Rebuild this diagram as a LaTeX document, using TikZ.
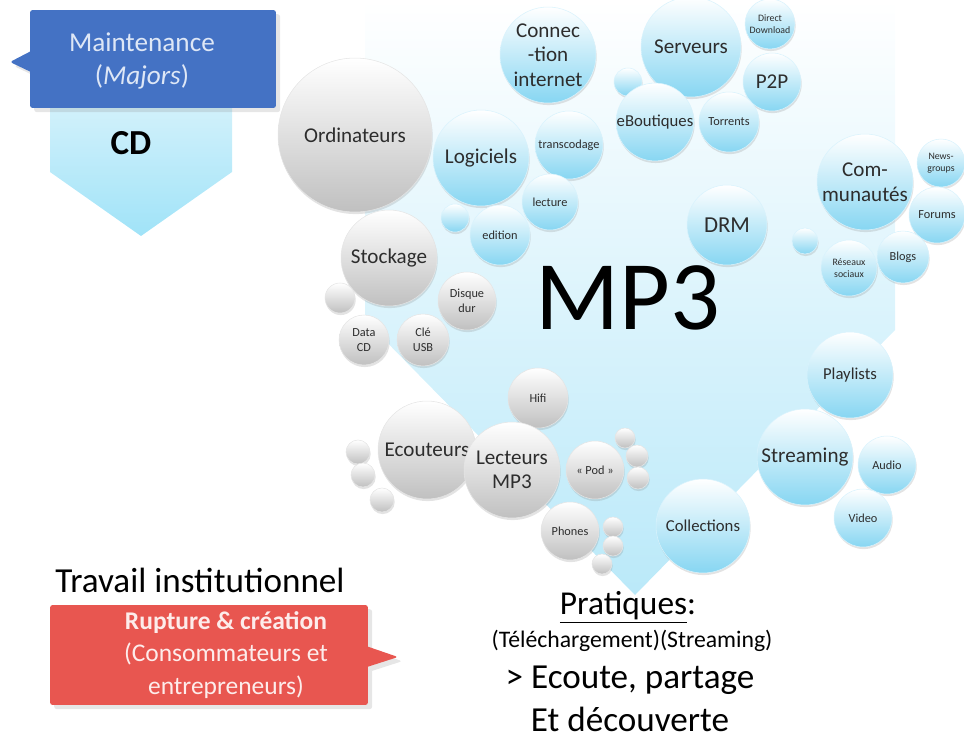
\documentclass[tikz,border=0pt]{standalone}
\usepackage{fontspec}
\setmainfont{Carlito}
\usetikzlibrary{shapes.callouts,shadows}
\definecolor{bgblue}{RGB}{186,233,249}
\definecolor{cdtop}{RGB}{214,242,251}
\definecolor{cdbottom}{RGB}{160,227,248}
\definecolor{bubbleblue}{RGB}{135,214,242}
\definecolor{bubblegray}{RGB}{192,192,192}
\definecolor{majorblue}{RGB}{68,114,196}
\definecolor{majortext}{RGB}{222,231,246}
\definecolor{rupturered}{RGB}{232,86,80}
\definecolor{rupturetext}{RGB}{253,236,235}
\definecolor{labelgray}{RGB}{45,45,45}

\begin{document}
\begin{tikzpicture}[x=0.02cm, y=-0.02cm,
  bubble/.style = {circle, minimum size=#1*0.04cm, inner sep=0pt,
    align=center, text=labelgray,
    drop shadow={opacity=0.22, shadow xshift=0.4pt, shadow yshift=-1.2pt}},
  gray bubble/.style = {bubble=#1, top color=white, bottom color=bubblegray,
    draw=black!10, line width=0.3pt},
  blue bubble/.style = {bubble=#1, top color=white, bottom color=bubbleblue,
    draw=cyan!15, line width=0.3pt},
  bigtxt/.style = {font=\fontsize{12}{14}\selectfont},
  midtxt/.style = {font=\fontsize{9.5}{11}\selectfont},
  smalltxt/.style = {font=\fontsize{7}{8.5}\selectfont},
  tinytxt/.style = {font=\fontsize{5.6}{6.8}\selectfont}]
  \useasboundingbox (0,0) rectangle (964,740);

  \shade[top color=white, middle color=white!45!bgblue, bottom color=bgblue]
    (365,0) -- (895,0) -- (895,330) -- (635,595) -- (365,320) -- cycle;
  \shade[top color=cdtop, bottom color=cdbottom]
    (50,95) -- (232,95) -- (232,172) -- (141,236) -- (50,172) -- cycle;

  \node[rectangle callout, fill=majorblue, rounded corners=1.5pt,
    minimum width=4.92cm, minimum height=1.96cm,
    callout absolute pointer={(10,62)}, callout pointer width=0.4cm,
    drop shadow={opacity=0.2}] (maint) at (153,59) {};
  \node[text=majortext, align=center, font=\fontsize{15.5}{19}\selectfont]
    (mainttxt) at (142,61) {Maintenance\\(\textit{Majors})};
  \node[font=\fontsize{20}{24}\selectfont\bfseries] (cd) at (131,143) {CD};

  \node[gray bubble=77, bigtxt] (ordi) at (355,135) {Ordinateurs};
  \node[gray bubble=48, bigtxt] (stock) at (389,258) {Stockage};
  \node[gray bubble=15] (gdot1) at (340,298) {};
  \node[gray bubble=25, smalltxt] (datacd) at (364,340) {Data\\CD};
  \node[gray bubble=26, smalltxt] (usb) at (423,340) {Clé\\USB};
  \node[gray bubble=29, smalltxt] (disque) at (467,301) {Disque\\dur};

  \node[gray bubble=30, smalltxt] (hifi) at (538,398) {Hifi};
  \node[gray bubble=49, bigtxt] (ecout) at (427,450) {Ecouteurs};
  \node[gray bubble=48, bigtxt] (lect) at (512,470) {Lecteurs\\MP3};
  \node[gray bubble=29, smalltxt] (pod) at (595,470) {« Pod »};
  \node[gray bubble=29, smalltxt] (phones) at (570,531) {Phones};
  \node[gray bubble=12] (gdot2) at (358,452) {};
  \node[gray bubble=12] (gdot3) at (363,475) {};
  \node[gray bubble=12] (gdot4) at (382,500) {};
  \node[gray bubble=10] (gdot5) at (625,438) {};
  \node[gray bubble=11] (gdot6) at (637,456) {};
  \node[gray bubble=11] (gdot7) at (638,478) {};
  \node[gray bubble=10] (gdot8) at (613,527) {};
  \node[gray bubble=10] (gdot9) at (613,546) {};
  \node[gray bubble=10] (gdot10) at (602,564) {};

  \node[blue bubble=48, bigtxt] (connec) at (548,55) {Connec\\-tion\\internet};
  \node[blue bubble=50, bigtxt] (serv) at (691,47) {Serveurs};
  \node[blue bubble=25, tinytxt] (direct) at (770,24) {Direct\\Download};
  \node[blue bubble=29, bigtxt] (ptop) at (772,82) {P2P};
  \node[blue bubble=14] (bdot1) at (628,82) {};
  \node[blue bubble=37, midtxt] (eshop) at (655,122) {eBoutiques};
  \node[blue bubble=30, smalltxt] (torr) at (729,122) {Torrents};

  \node[blue bubble=48, bigtxt] (logi) at (481,158) {Logiciels};
  \node[blue bubble=34, smalltxt] (transc) at (569,145) {transcodage};
  \node[blue bubble=28, smalltxt] (lecture) at (550,202) {lecture};
  \node[blue bubble=30, smalltxt] (edit) at (500,235) {edition};
  \node[blue bubble=14] (bdot2) at (455,218) {};
  \node[blue bubble=40, font=\fontsize{13}{15}\selectfont] (drm) at (727,225) {DRM};

  \node[blue bubble=48, bigtxt] (commu) at (865,182) {Com-\\munautés};
  \node[blue bubble=24, tinytxt] (news) at (941,163) {News-\\groups};
  \node[blue bubble=28, smalltxt] (forum) at (937,215) {Forums};
  \node[blue bubble=26, smalltxt] (blogs) at (903,257) {Blogs};
  \node[blue bubble=28, tinytxt] (reseau) at (849,268) {Réseaux\\sociaux};
  \node[blue bubble=13] (bdot3) at (805,241) {};

  \node[blue bubble=43, midtxt] (play) at (850,375) {Playlists};
  \node[blue bubble=48, bigtxt] (stream) at (805,457) {Streaming};
  \node[blue bubble=29, smalltxt] (audio) at (887,465) {Audio};
  \node[blue bubble=29, smalltxt] (video) at (863,518) {Video};
  \node[blue bubble=47, midtxt] (coll) at (703,526) {Collections};

  \node[font=\fontsize{56}{60}\selectfont] (mp3) at (628,298) {MP3};

  \node[font=\fontsize{20}{24}\selectfont] (travail) at (200,580) {Travail institutionnel};
  \node[rectangle callout, fill=rupturered, rounded corners=1.5pt,
    minimum width=6.36cm, minimum height=2cm,
    callout absolute pointer={(398,657)}, callout pointer width=0.4cm,
    drop shadow={opacity=0.2}] (rupt) at (209,655) {};
  \node[text=rupturetext, align=center, font=\fontsize{14.5}{18.7}\selectfont]
    (rupttxt) at (226,655) {\textbf{Rupture \& création}\\(Consommateurs et\\entrepreneurs)};

  \node[font=\fontsize{19}{23}\selectfont] (prat) at (628,607) {\underline{Pratiques}:};
  \node[font=\fontsize{13.5}{16}\selectfont] (tele) at (632,641) {(Téléchargement)(Streaming)};
  \node[font=\fontsize{20}{24}\selectfont] (ecoute) at (630,680) {> Ecoute, partage};
  \node[font=\fontsize{20}{24}\selectfont] (decouv) at (630,719) {Et découverte};
\end{tikzpicture}
\end{document}
